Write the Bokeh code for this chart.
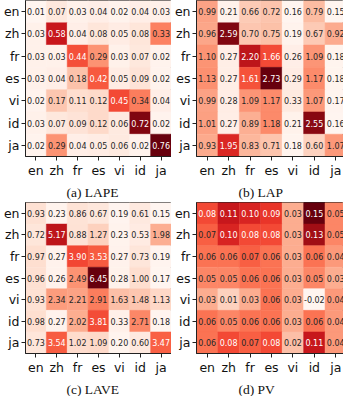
from bokeh.plotting import figure
from bokeh.layouts import column, row
from bokeh.models import ColumnDataSource, LinearColorMapper, Range1d, FixedTicker, Title
from bokeh.palettes import Reds256
from bokeh.transform import transform
from bokeh.core.properties import value
from bokeh.embed import file_html
from bokeh.resources import INLINE

langs = ["en", "zh", "fr", "es", "vi", "id", "ja"]

lape = [
    [0.01, 0.07, 0.03, 0.04, 0.02, 0.04, 0.03],
    [0.03, 0.58, 0.04, 0.08, 0.05, 0.08, 0.33],
    [0.03, 0.03, 0.44, 0.29, 0.03, 0.07, 0.02],
    [0.03, 0.04, 0.18, 0.42, 0.05, 0.09, 0.02],
    [0.02, 0.17, 0.11, 0.12, 0.45, 0.34, 0.04],
    [0.03, 0.07, 0.09, 0.12, 0.06, 0.72, 0.02],
    [0.02, 0.29, 0.04, 0.05, 0.06, 0.02, 0.76],
]
lap = [
    [0.99, 0.21, 0.66, 0.72, 0.16, 0.79, 0.15],
    [0.96, 2.59, 0.70, 0.75, 0.19, 0.67, 0.92],
    [1.10, 0.27, 2.20, 1.66, 0.26, 1.09, 0.18],
    [1.13, 0.27, 1.61, 2.73, 0.29, 1.17, 0.18],
    [0.99, 0.28, 1.09, 1.17, 0.33, 1.07, 0.17],
    [1.01, 0.27, 0.89, 1.18, 0.21, 2.55, 0.16],
    [0.93, 1.95, 0.83, 0.71, 0.18, 0.60, 1.07],
]
lave = [
    [0.93, 0.23, 0.86, 0.67, 0.19, 0.61, 0.15],
    [0.72, 5.17, 0.88, 1.27, 0.23, 0.53, 1.98],
    [0.97, 0.27, 3.90, 3.53, 0.27, 0.73, 0.19],
    [0.96, 0.26, 2.49, 6.45, 0.28, 1.00, 0.17],
    [0.93, 2.34, 2.21, 2.91, 1.63, 1.48, 1.13],
    [0.98, 0.27, 2.02, 3.81, 0.33, 2.71, 0.18],
    [0.73, 3.54, 1.02, 1.09, 0.20, 0.60, 3.47],
]
pv = [
    [0.08, 0.11, 0.10, 0.09, 0.03, 0.15, 0.05],
    [0.07, 0.10, 0.08, 0.08, 0.03, 0.13, 0.05],
    [0.06, 0.06, 0.07, 0.06, 0.03, 0.06, 0.04],
    [0.05, 0.05, 0.06, 0.06, 0.03, 0.05, 0.03],
    [0.03, 0.01, 0.03, 0.06, 0.03, -0.02, 0.04],
    [0.06, 0.05, 0.06, 0.06, 0.03, 0.06, 0.04],
    [0.06, 0.08, 0.07, 0.08, 0.02, 0.11, 0.04],
]

captions = ["(a) LAPE", "(b) LAP", "(c) LAVE", "(d) PV"]
text_thresholds = [0.38, 1.4, 3.2, 0.075]

CELL = 151 / 7.0


def make_panel(caption, mat, thr, is_left, is_top):
    width = 171 if is_left else 172
    height = 202 if is_top else 197
    mb_left = 20 if is_left else 24
    mb_top = 0
    mb_bottom = 45
    frame_w = width - mb_left
    x_end = -0.5 + frame_w / CELL

    xs, ys, vs, labels, tcs = [], [], [], [], []
    for r in range(7):
        for c in range(7):
            v = mat[r][c]
            xs.append(c)
            ys.append(r)
            vs.append(v)
            labels.append("%.2f" % v)
            tcs.append("#ffffff" if v > thr else "#262626")
    src = ColumnDataSource(dict(x=xs, y=ys, v=vs, label=labels, tc=tcs))
    flat = [v for row_ in mat for v in row_]
    mapper = LinearColorMapper(palette=Reds256[::-1], low=min(flat), high=max(flat))

    p = figure(width=width, height=height, output_backend="svg", toolbar_location=None,
               x_range=Range1d(-0.5, x_end), y_range=Range1d(6.5, -0.5),
               min_border_left=mb_left, min_border_right=0, min_border_top=mb_top,
               min_border_bottom=mb_bottom, tools="")
    p.rect(x="x", y="y", width=1, height=1, source=src,
           fill_color=transform("v", mapper), line_color=transform("v", mapper), line_width=0.5)
    p.text(x="x", y="y", text="label", source=src, text_align="center",
           text_baseline="middle", text_font_size=value("8px"),
           text_font=value("DejaVu Sans"), text_color="tc")

    for ax in (p.xaxis[0], p.yaxis[0]):
        ax.ticker = FixedTicker(ticks=list(range(7)))
        ax.major_label_overrides = {i: l for i, l in enumerate(langs)}
        ax.minor_tick_line_color = None
        ax.major_tick_in = 0
        ax.major_tick_out = 4
        ax.major_tick_line_color = "#222222"
        ax.axis_line_color = "#222222"
        ax.major_label_standoff = 2
        ax.major_label_text_font = "DejaVu Sans"
        ax.major_label_text_font_size = "12.5px"
        ax.major_label_text_color = "#111111"
    p.grid.visible = False
    p.outline_line_color = "#222222"
    p.background_fill_color = "white"
    p.border_fill_color = "white"

    t = Title(text=caption, align="left", offset=41 if is_left else 42,
              text_font="Liberation Serif", text_font_size="13.5px",
              text_font_style="normal", text_color="#111111", standoff=5)
    p.add_layout(t, "below")
    return p


pa = make_panel(captions[0], lape, text_thresholds[0], True, True)
pb = make_panel(captions[1], lap, text_thresholds[1], False, True)
pc = make_panel(captions[2], lave, text_thresholds[2], True, False)
pd = make_panel(captions[3], pv, text_thresholds[3], False, False)

layout = column(row(pa, pb), row(pc, pd))

open("out.html", "w").write(file_html(layout, INLINE))
